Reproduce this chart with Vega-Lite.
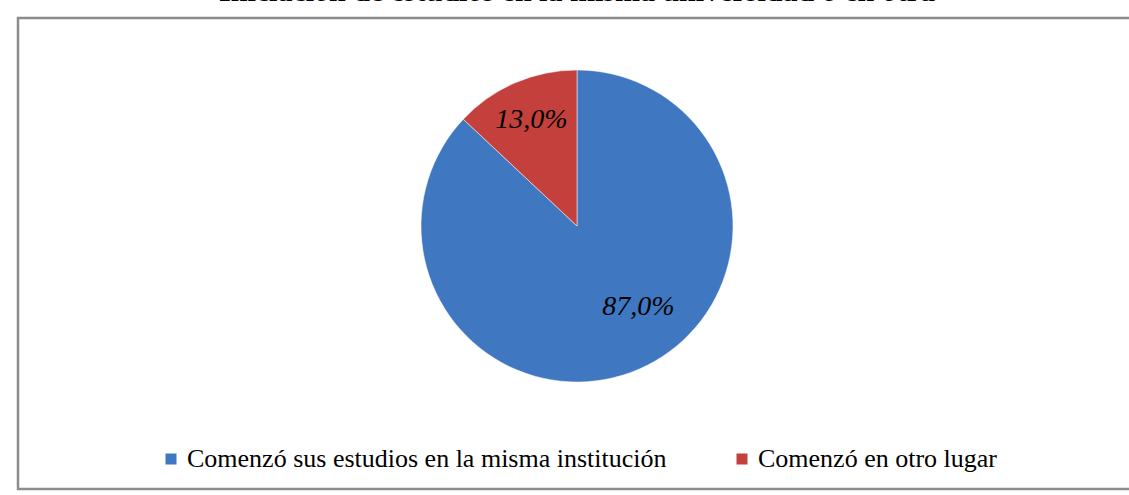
{
  "$schema": "https://vega.github.io/schema/vega-lite/v6.json",
  "width": 1118,
  "height": 471,
  "autosize": {"type": "none"},
  "padding": {"left": 18, "top": 18, "right": 0, "bottom": 6},
  "background": "#ffffff",
  "view": {"stroke": "#8c8c8c", "strokeWidth": 2.5},
  "title": {
    "text": "Iniciación de estudios en la misma universidad o en otra",
    "font": "Liberation Serif",
    "fontSize": 30,
    "fontWeight": "bold",
    "color": "#000000",
    "anchor": "middle",
    "baseline": "alphabetic",
    "offset": 0,
    "dy": 13
  },
  "data": {
    "values": [
      {"categoria": "Comenzó sus estudios en la misma institución", "valor": 87.0, "etiqueta": "87,0%", "orden": 1},
      {"categoria": "Comenzó en otro lugar", "valor": 13.0, "etiqueta": "13,0%", "orden": 2}
    ]
  },
  "encoding": {
    "theta": {"field": "valor", "type": "quantitative", "stack": true},
    "order": {"field": "orden", "type": "quantitative"}
  },
  "layer": [
    {
      "mark": {"type": "arc", "outerRadius": 156, "yOffset": -27.5, "stroke": "#ffffff", "strokeOpacity": 0.5, "strokeWidth": 1},
      "encoding": {
        "color": {
          "field": "categoria",
          "type": "nominal",
          "scale": {
            "domain": ["Comenzó sus estudios en la misma institución", "Comenzó en otro lugar"],
            "range": ["#3f77c0", "#c3403d"]
          },
          "legend": {
            "orient": "none",
            "direction": "horizontal",
            "legendX": 140,
            "legendY": 428,
            "title": null,
            "symbolType": "square",
            "symbolSize": 144,
            "symbolStrokeWidth": 1,
            "symbolOpacity": 1,
            "labelFont": "Liberation Serif",
            "labelFontSize": 26,
            "labelColor": "#000000",
            "labelOffset": 3,
            "labelLimit": 0,
            "columnPadding": 62
          }
        }
      }
    },
    {
      "mark": {"type": "text", "yOffset": -27.5, "dx": 22, "dy": -10, "font": "Liberation Serif", "fontSize": 28, "fontStyle": "italic", "color": "#000000"},
      "encoding": {
        "text": {"condition": {"test": "datum.orden === 1", "field": "etiqueta"}, "value": ""},
        "radius": {"value": 99}
      }
    },
    {
      "mark": {"type": "text", "yOffset": -27.5, "font": "Liberation Serif", "fontSize": 28, "fontStyle": "italic", "color": "#000000"},
      "encoding": {
        "text": {"condition": {"test": "datum.orden === 2", "field": "etiqueta"}, "value": ""},
        "radius": {"value": 115}
      }
    }
  ]
}
